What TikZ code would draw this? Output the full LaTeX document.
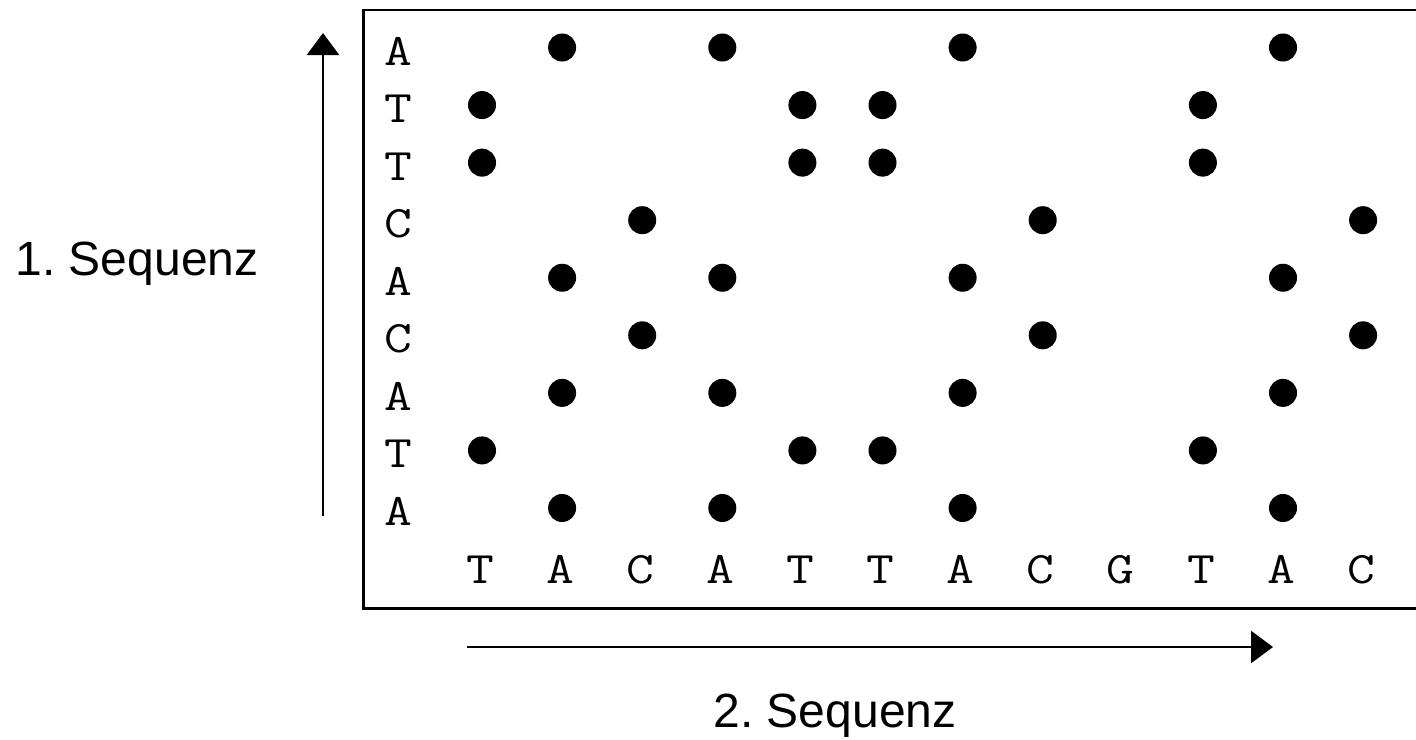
\documentclass[tikz,border=0pt]{standalone}
\usepackage{fontspec}
\setmainfont{Liberation Sans}
\newfontfamily\seqfont[FakeStretch=1.2]{Latin Modern Mono}
\usetikzlibrary{arrows.meta}
\begin{document}
\begin{tikzpicture}[x=0.01cm,y=-0.01cm,
  frame/.style={line width=0.85pt},
  axis/.style={line width=0.7pt,-{Triangle[length=0.22cm,width=0.32cm]}},
  letter/.style={font=\seqfont\fontsize{12.8}{16}\selectfont,anchor=base,inner sep=0pt},
  hit/.style={circle,fill=black,minimum size=0.28cm,inner sep=0pt},
  caption/.style={font=\frenchspacing\fontsize{13.66}{16}\selectfont,anchor=base,inner sep=0pt}]
\useasboundingbox (0,0) rectangle (1416,739);

% frame of the dot plot (open towards the right edge)
\coordinate (ftr) at (1420,10);
\coordinate (ftl) at (363,10);
\coordinate (fbl) at (363,608);
\coordinate (fbr) at (1420,608);
\draw[frame] (ftr) -- (ftl) -- (fbl) -- (fbr);

% first sequence, read from bottom to top
\foreach \s [count=\r] in {A,T,T,C,A,C,A,T,A}{
  \node[letter] (row\r) at (398,{65+(\r-1)*57.56}) {\s};
}
% second sequence, read from left to right
\foreach \t [count=\c] in {T,A,C,A,T,T,A,C,G,T,A,C}{
  \node[letter] (col\c) at ({480+(\c-1)*80.1},583) {\t};
}
% a dot wherever the two letters agree
\foreach \s [count=\r] in {A,T,T,C,A,C,A,T,A}{
  \foreach \t [count=\c] in {T,A,C,A,T,T,A,C,G,T,A,C}{
    \ifx\s\t
      \node[hit] (dot-\r-\c) at ({482+(\c-1)*80.1},{47.5+(\r-1)*57.56}) {};
    \fi
  }
}

% direction arrows
\coordinate (vstart) at (323,516);
\coordinate (vend) at (323,33);
\draw[axis] (vstart) -- (vend);
\coordinate (hstart) at (467,647);
\coordinate (hend) at (1273,647);
\draw[axis] (hstart) -- (hend);

% axis captions
\node[caption] (seq1) at (137,275) {1. Sequenz};
\node[caption] (seq2) at (835,727) {2. Sequenz};
\end{tikzpicture}
\end{document}
